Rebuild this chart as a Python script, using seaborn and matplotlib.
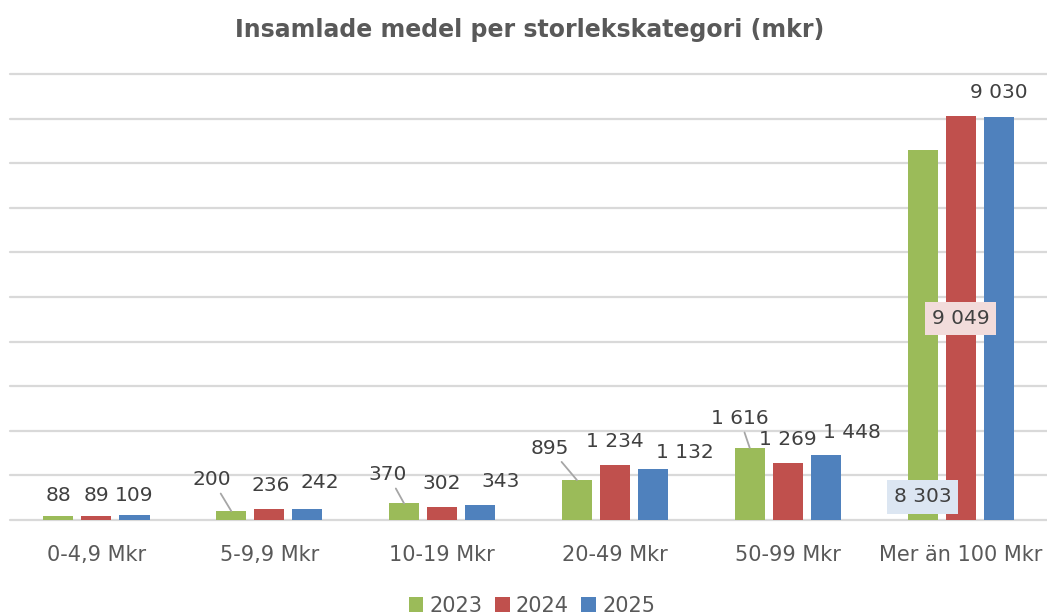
import matplotlib
matplotlib.use("Agg")
import matplotlib.pyplot as plt
from matplotlib.patches import Patch
import pandas as pd
import seaborn as sns

# ---- data ----
categories = ["0-4,9 Mkr", "5-9,9 Mkr", "10-19 Mkr", "20-49 Mkr", "50-99 Mkr", "Mer än 100 Mkr"]
years = ["2023", "2024", "2025"]
v2023 = [88, 200, 370, 895, 1616, 8303]
v2024 = [89, 236, 302, 1234, 1269, 9049]
v2025 = [109, 242, 343, 1132, 1448, 9030]
title = "Insamlade medel per storlekskategori (mkr)"

# ---- style ----
colors = ["#9bbb59", "#c0504d", "#4f81bd"]
label_color = "#404040"
axis_color = "#595959"

sns.set_theme(style="white")
plt.rcParams["font.family"] = ["DejaVu Sans"]

df = pd.DataFrame({
    "cat": categories * 3,
    "year": [y for y in years for _ in categories],
    "val": v2023 + v2024 + v2025,
})

fig = plt.figure(figsize=(10.47, 6.15), dpi=100)
ax = fig.add_axes([0.0096, 0.1545, 0.9904, 0.7252])

sns.barplot(data=df, x="cat", y="val", hue="year", order=categories, hue_order=years,
            palette=colors, saturation=1, width=0.66, gap=0.21, errorbar=None,
            legend=False, ax=ax, edgecolor="none")

ax.set_xlim(-0.5, 5.5)
ax.set_ylim(0, 10000)
ax.set_yticks(range(0, 10001, 1000))
ax.yaxis.grid(True, color="#d9d9d9", lw=1.6)
ax.xaxis.grid(False)
ax.set_axisbelow(True)
for gl in ax.get_ygridlines():
    gl.set_clip_on(False)
ax.set_yticklabels([])
ax.tick_params(axis="y", length=0)
ax.tick_params(axis="x", length=0, pad=18, labelsize=15, labelcolor=axis_color)
for s in ax.spines.values():
    s.set_visible(False)
ax.set_xlabel("")
ax.set_ylabel("")

# ---- data labels (layout offsets in pixels: dx, dy above bar top) ----
px = 0.72  # pixel -> point
offsets = {
    0: [(0, 21), (-19, 31.5), (-16, 29), (-27, 32), (-10, 29.5), None],
    1: [(0, 21), (1, 24), (0, 23.5), (0, 23), (0, 24), None],
    2: [(0, 20), (13, 27), (20, 23), (32, 16.5), (26, 23), (0, 25)],
}
leaders = {(0, 1), (0, 2), (0, 3), (0, 4)}

def fmt(v):
    return f"{int(round(v)):,}".replace(",", " ")

for hi, cont in enumerate(ax.containers):
    for ci, bar in enumerate(cont):
        x = bar.get_x() + bar.get_width() / 2
        h = bar.get_height()
        txt = fmt(h)
        off = offsets[hi][ci]
        if off is None:
            if hi == 0:
                ax.annotate(txt, xy=(x, 0), xytext=(0, 23 * px), textcoords="offset points",
                            ha="center", va="center", fontsize=14.5, color=label_color,
                            bbox=dict(boxstyle="square,pad=0.35", fc="#dce6f2", ec="none"))
            else:
                ax.annotate(txt, xy=(x, h / 2), xytext=(0, 0), textcoords="offset points",
                            ha="center", va="center", fontsize=14.5, color=label_color,
                            bbox=dict(boxstyle="square,pad=0.35", fc="#f2dcdb", ec="none"))
            continue
        dx, dy = off
        kw = {}
        if (hi, ci) in leaders:
            kw["arrowprops"] = dict(arrowstyle="-", color="#a6a6a6", lw=1.3,
                                    shrinkA=1, shrinkB=0)
        ax.annotate(txt, xy=(x, h), xytext=(dx * px, dy * px), textcoords="offset points",
                    ha="center", va="center", fontsize=14.5, color=label_color, **kw)

fig.text(0.506, 1 - 30 / 615, title, ha="center", va="center",
         fontsize=17, fontweight="bold", color=axis_color)

handles = [Patch(facecolor=c, edgecolor="none") for c in colors]
fig.legend(handles, years, loc="center", bbox_to_anchor=(0.508, 1 - 606 / 615), ncol=3,
           frameon=False, fontsize=15, handlelength=0.7, handleheight=0.7,
           handletextpad=0.3, columnspacing=0.6, labelcolor=axis_color,
           borderaxespad=0, borderpad=0)

fig.savefig("out.png", dpi=100)
